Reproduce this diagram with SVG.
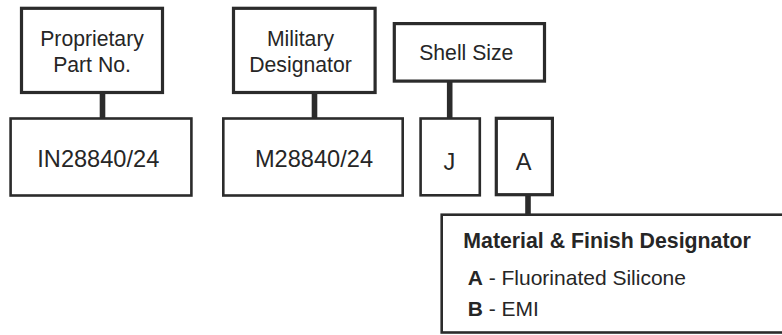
<svg xmlns="http://www.w3.org/2000/svg" width="782" height="335" viewBox="0 0 782 335">
<style>
  .box { fill: #ffffff; stroke: #2b2b2b; stroke-width: 2.6; }
  .hdr { fill: #ffffff; stroke: #2b2b2b; stroke-width: 3.2; }
  .conn { stroke: #2b2b2b; stroke-width: 5.6; fill: none; }
  text { font-family: "Liberation Sans", Arial, Helvetica, sans-serif; fill: #262626; }
  .lbl { font-size: 21.2px; text-anchor: middle; }
  .code { font-size: 23.6px; text-anchor: middle; }
  .b { font-weight: bold; }
</style>
<rect width="782" height="335" fill="#ffffff"/>
<g id="connectors">
  <line class="conn" x1="102.5" y1="93" x2="102.5" y2="118"/>
  <line class="conn" x1="314.5" y1="93" x2="314.5" y2="118"/>
  <line class="conn" x1="449.7" y1="81" x2="449.7" y2="118"/>
  <line class="conn" x1="528" y1="196" x2="528" y2="214"/>
</g>
<g id="proprietary">
  <rect class="hdr" x="21.5" y="8.3" width="141" height="84.2"/>
  <text class="lbl" x="92" y="46">Proprietary</text>
  <text class="lbl" x="92" y="71.7">Part No.</text>
</g>
<g id="in28840">
  <rect class="box" x="10.6" y="118.5" width="180.8" height="77"/>
  <text class="code" x="98.3" y="166.7">IN28840/24</text>
</g>
<g id="military">
  <rect class="hdr" x="233.5" y="8.3" width="141.6" height="84.2"/>
  <text class="lbl" x="300.5" y="46">Military</text>
  <text class="lbl" x="300.5" y="71.7">Designator</text>
</g>
<g id="m28840">
  <rect class="box" x="223.3" y="118.5" width="179.4" height="77"/>
  <text class="code" x="314" y="166.7">M28840/24</text>
</g>
<g id="shellsize">
  <rect class="hdr" x="394.3" y="23.6" width="150.2" height="57.5"/>
  <text class="lbl" x="466.3" y="60">Shell Size</text>
</g>
<g id="j">
  <rect class="box" x="420.6" y="118.5" width="59.2" height="76.8"/>
  <text class="code" x="449.5" y="169.5">J</text>
</g>
<g id="a">
  <rect class="hdr" x="496.3" y="118.3" width="56.1" height="76.4"/>
  <text class="code" x="523.5" y="169.5">A</text>
</g>
<g id="material">
  <rect class="box" x="441.7" y="214.7" width="400" height="117.8"/>
  <text x="463.3" y="248.3" font-size="21.3" class="b">Material &amp; Finish Designator</text>
  <text x="467.7" y="285" font-size="21"><tspan class="b">A</tspan> - Fluorinated Silicone</text>
  <text x="467.7" y="316" font-size="21"><tspan class="b">B</tspan> - EMI</text>
</g>
</svg>
